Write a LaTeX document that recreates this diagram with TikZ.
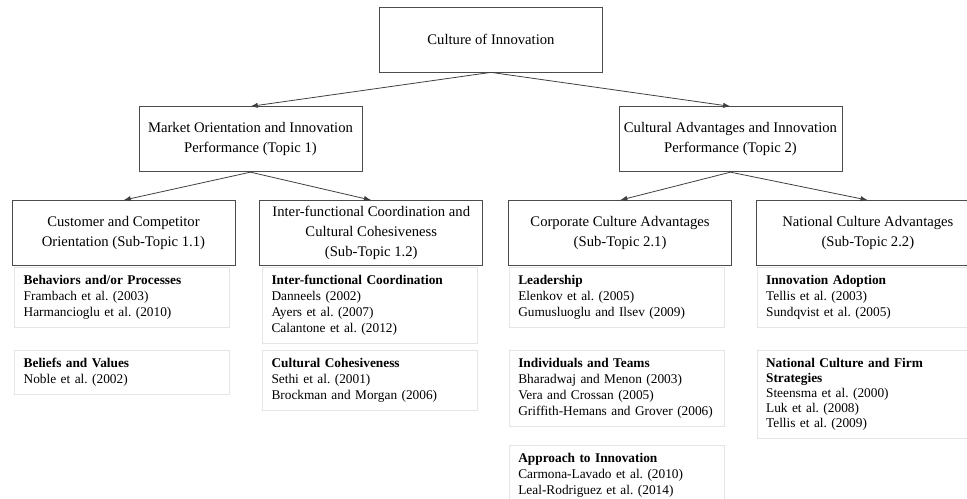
\documentclass[tikz,border=0pt]{standalone}
\usepackage{fontspec}
\setmainfont{Liberation Serif}
\usetikzlibrary{positioning,arrows.meta}
\frenchspacing
\tikzset{
  bloc/.style    = {draw=black!70, line width=0.6pt, align=center, inner sep=3pt,
                    minimum width=167.25pt, minimum height=48.75pt,
                    font=\fontsize{11}{15}\selectfont},
  lista/.style   = {draw=black!10, line width=0.7pt, fill=white, align=left,
                    anchor=north west, text width=147.5pt, inner xsep=6.75pt,
                    inner ysep=6pt, font=\fontsize{10}{12}\selectfont},
  sageata/.style = {-{Latex[length=5.5pt, width=4pt]}, draw=black!75, line width=0.6pt}
}

\begin{document}
\begin{tikzpicture}[node distance=21pt and 18pt]
        \useasboundingbox (0,0) rectangle (725.25pt,-374.25pt);

        \node[bloc] (cultura) at (368.25pt,-29.6pt) {Culture of Innovation};

        \node[bloc, below=25.5pt of cultura, xshift=-180.4pt] (tema1)
            {Market Orientation and Innovation\\ Performance (Topic 1)};
        \node[bloc, below=25.5pt of cultura, xshift=179.6pt] (tema2)
            {Cultural Advantages and Innovation\\ Performance (Topic 2)};

        \node[bloc, below=of tema1, xshift=-95.25pt] (sub11)
            {Customer and Competitor\\ Orientation (Sub-Topic 1.1)};
        \node[bloc, right=of sub11] (sub12)
            {Inter-functional Coordination and\\ Cultural Cohesiveness\\ (Sub-Topic 1.2)};
        \node[bloc, right=18.75pt of sub12] (sub21)
            {Corporate Culture Advantages\\ (Sub-Topic 2.1)};
        \node[bloc, right=of sub21] (sub22)
            {National Culture Advantages\\ (Sub-Topic 2.2)};

        \node[lista, xshift=2pt, yshift=-0.5pt] (ref11a) at (sub11.south west)
            {\textbf{Behaviors and/or Processes}\\ Frambach et al. (2003)\\ Harmancioglu et al. (2010)};
        \node[lista, xshift=2pt, yshift=-63pt] (ref11b) at (sub11.south west)
            {\textbf{Beliefs and Values}\\ Noble et al. (2002)};

        \node[lista, xshift=2pt, yshift=-0.5pt] (ref12a) at (sub12.south west)
            {\textbf{Inter-functional Coordination}\\ Danneels (2002)\\ Ayers et al. (2007)\\ Calantone et al. (2012)};
        \node[lista, xshift=2pt, yshift=-63pt] (ref12b) at (sub12.south west)
            {\textbf{Cultural Cohesiveness}\\ Sethi et al. (2001)\\ Brockman and Morgan (2006)};

        \node[lista, xshift=0.5pt, yshift=-0.5pt] (ref21a) at (sub21.south west)
            {\textbf{Leadership}\\ Elenkov et al. (2005)\\ Gumusluoglu and Ilsev (2009)};
        \node[lista, xshift=0.5pt, yshift=-63pt] (ref21b) at (sub21.south west)
            {\textbf{Individuals and Teams}\\ Bharadwaj and Menon (2003)\\ Vera and Crossan (2005)\\ Griffith-Hemans and Grover (2006)};
        \node[lista, xshift=0.5pt, yshift=-134.25pt] (ref21c) at (sub21.south west)
            {\textbf{Approach to Innovation}\\ Carmona-Lavado et al. (2010)\\ Leal-Rodriguez et al. (2014)};

        \node[lista, xshift=0.5pt, yshift=-0.5pt] (ref22a) at (sub22.south west)
            {\textbf{Innovation Adoption}\\ Tellis et al. (2003)\\ Sundqvist et al. (2005)};
        \node[lista, xshift=0.5pt, yshift=-63pt, font=\fontsize{10}{11.25}\selectfont] (ref22b) at (sub22.south west)
            {\textbf{National Culture and Firm}\\ \textbf{Strategies}\\ Steensma et al. (2000)\\ Luk et al. (2008)\\ Tellis et al. (2009)};

        \draw[sageata] (cultura.south) -- (tema1.north);
        \draw[sageata] (cultura.south) -- (tema2.north);
        \draw[sageata] (tema1.south) -- (sub11.north);
        \draw[sageata] (tema1.south) -- (sub12.north);
        \draw[sageata] (tema2.south) -- (sub21.north);
        \draw[sageata] (tema2.south) -- (sub22.north);
    \end{tikzpicture}
\end{document}
